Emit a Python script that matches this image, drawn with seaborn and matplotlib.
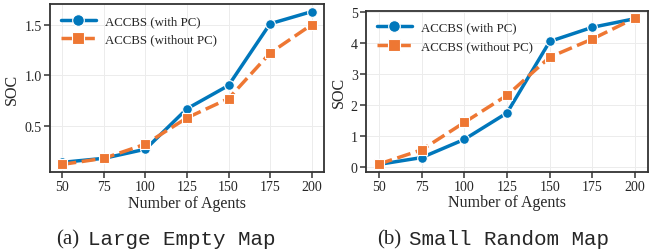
import numpy as np
import pandas as pd
import seaborn as sns
import matplotlib.pyplot as plt

agents = [50, 75, 100, 125, 150, 175, 200]
series_names = ["ACCBS (with PC)", "ACCBS (without PC)"]
large_with = [0.14, 0.18, 0.27, 0.67, 0.90, 1.51, 1.63]
large_without = [0.12, 0.18, 0.32, 0.58, 0.77, 1.22, 1.50]
small_with = [0.07, 0.29, 0.88, 1.74, 4.06, 4.52, 4.80]
small_without = [0.08, 0.54, 1.43, 2.31, 3.55, 4.14, 4.82]
captions = [("(a)", "Large Empty Map"), ("(b)", "Small Random Map")]

sns.set_theme(style="ticks")
plt.rcParams['font.family'] = ['Liberation Serif', 'DejaVu Serif']

colors = {"ACCBS (with PC)": "#0077BB", "ACCBS (without PC)": "#EE7733"}

def make_df(w, wo):
    return pd.DataFrame({
        "agents": agents * 2,
        "SOC": list(w) + list(wo),
        "method": [series_names[0]] * len(agents) + [series_names[1]] * len(agents),
    })

fig = plt.figure(figsize=(6.49, 2.53), dpi=100)
W, H = 649, 253
ax1 = fig.add_axes([50 / W, (H - 173) / H, 274 / W, 168 / H])
ax2 = fig.add_axes([366 / W, (H - 172.7) / H, 282 / W, 161 / H])

for ax, (w, wo) in zip([ax1, ax2], [(large_with, large_without), (small_with, small_without)]):
    df = make_df(w, wo)
    sns.lineplot(data=df, x="agents", y="SOC", hue="method", style="method",
                 palette=colors, markers={series_names[0]: "o", series_names[1]: "s"},
                 dashes={series_names[0]: "", series_names[1]: (4, 1.6)},
                 linewidth=2.5, markersize=7, markeredgecolor="white", markeredgewidth=0.8,
                 ax=ax)
    ax.set_xticks(agents)
    ax.grid(True, color="#ececec", linewidth=0.7)
    ax.set_axisbelow(True)
    for s in ax.spines.values():
        s.set_color("#333333")
        s.set_linewidth(1.3)
        s.set_visible(True)
    ax.tick_params(axis="both", labelsize=10, length=4, width=1.1, color="#333333", pad=2)
    ax.set_xlabel("Number of Agents", fontsize=11.5, labelpad=1)
    ax.set_ylabel("SOC", fontsize=11.5, labelpad=3)
    leg = ax.legend(loc="upper left", frameon=False, fontsize=9.3, handlelength=2.7,
                    borderaxespad=0.45, labelspacing=0.5, handletextpad=0.7,
                    markerscale=1.2)

ax2.set_yticks([0, 1, 2, 3, 4, 5])

fig.text(56 / W, 1 - 240 / H, captions[0][0], fontsize=15, va="center", ha="left",
         family=['Liberation Serif'])
fig.text(88 / W, 1 - 240 / H, captions[0][1], fontsize=15, va="center", ha="left",
         family=['Liberation Mono'])
fig.text(377 / W, 1 - 240 / H, captions[1][0], fontsize=15, va="center", ha="left",
         family=['Liberation Serif'])
fig.text(409 / W, 1 - 240 / H, captions[1][1], fontsize=15, va="center", ha="left",
         family=['Liberation Mono'])

fig.savefig("out.png", dpi=100)
